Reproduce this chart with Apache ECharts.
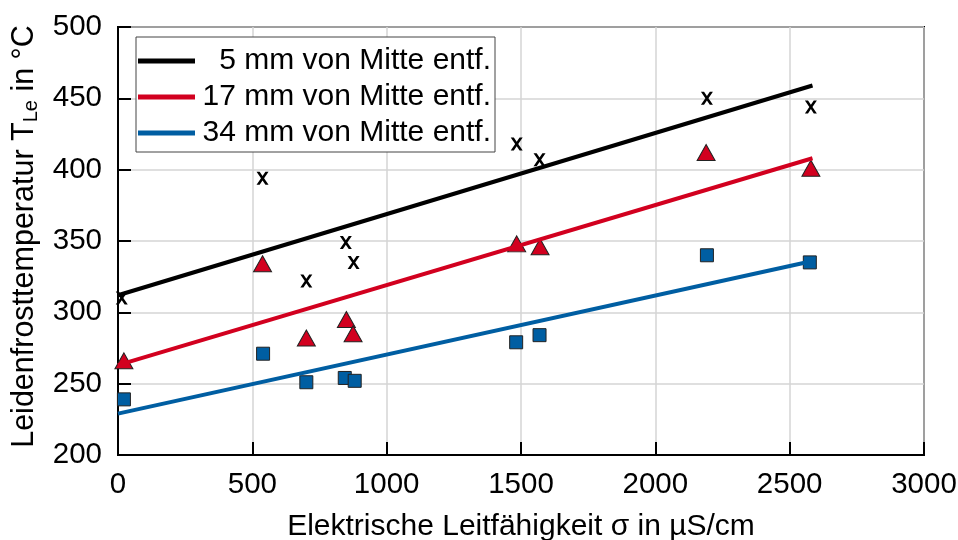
<!DOCTYPE html>
<html>
<head>
<meta charset="utf-8">
<script src="https://cdn.jsdelivr.net/npm/echarts@6/dist/echarts.min.js"></script>
<style>
html,body{margin:0;padding:0;background:#fff;}
#c{width:958px;height:540px;}
</style>
</head>
<body>
<div id="c"></div>
<script>
// Data
var seriesNames = ['5 mm von Mitte entf.', '17 mm von Mitte entf.', '34 mm von Mitte entf.'];
var xTicks = [0, 500, 1000, 1500, 2000, 2500, 3000];
var yTicks = [200, 250, 300, 350, 400, 450, 500];

var x5 = [14, 538, 701, 848, 877, 1484, 1569, 2192, 2579];
var y5 = [310, 394, 322, 349, 335, 418, 407, 450, 444];
var x17 = [22, 538, 701, 850, 875, 1484, 1571, 2189, 2579];
var y17 = [266, 334, 282, 295, 285, 348, 346, 412, 401];
var x34 = [22, 540, 701, 844, 881, 1482, 1569, 2192, 2575];
var y34 = [239, 271, 251, 254, 252, 279, 284, 340, 335];

// Fit lines (start / end values)
var fitX = [0, 2585];
var fit5 = [312, 459];
var fit17 = [263, 408];
var fit34 = [229, 336];

var colors = ['#000000', '#d2001f', '#005ea2'];

function pairs(xs, ys) { return xs.map(function (x, i) { return [x, ys[i]]; }); }

var crossPath = 'path://M0,0 L2.6,0 L5,3.3 L7.4,0 L10,0 L6.3,5 L10,10 L7.4,10 L5,6.7 L2.6,10 L0,10 L3.7,5 Z';
var font = 'Liberation Sans, Arial, sans-serif';

var chart = echarts.init(document.getElementById('c'), null, {renderer: 'canvas'});
chart.setOption({
  animation: false,
  backgroundColor: '#ffffff',
  textStyle: {fontFamily: font, color: '#000'},
  grid: {left: 118, right: 34, top: 27, bottom: 85, containLabel: false, outerBoundsMode: 'none',
    show: true, borderColor: '#000', borderWidth: 2, backgroundColor: 'transparent'},
  legend: {
    data: seriesNames,
    orient: 'vertical',
    left: 136, top: 37,
    backgroundColor: '#fff',
    borderColor: '#444', borderWidth: 1, borderRadius: 0,
    padding: [9, 4, 4, 2],
    itemGap: 6,
    itemWidth: 57, itemHeight: 5,
    itemTextGap: 8,
    icon: 'rect',
    selectedMode: false,
    formatter: function (n) { return '{t|' + n + '}'; },
    textStyle: {
      fontFamily: font, fontSize: 30, color: '#000',
      rich: {t: {fontFamily: font, fontSize: 30, lineHeight: 31, width: 291, align: 'right', color: '#000'}}
    }
  },
  xAxis: {
    type: 'value', min: xTicks[0], max: xTicks[xTicks.length - 1], interval: 500,
    name: 'Elektrische Leitfähigkeit σ in µS/cm',
    nameLocation: 'middle', nameGap: 57,
    nameTextStyle: {fontFamily: font, fontSize: 30, color: '#000'},
    axisLine: {lineStyle: {color: '#000', width: 2}},
    axisTick: {inside: true, length: 13, lineStyle: {color: '#000', width: 2}},
    axisLabel: {fontFamily: font, fontSize: 29.5, color: '#000', margin: 15,
      formatter: function (v) { return String(v); }},
    splitLine: {show: true, lineStyle: {color: '#d4d4d4', width: 1.5}}
  },
  yAxis: {
    type: 'value', min: yTicks[0], max: yTicks[yTicks.length - 1], interval: 50,
    name: 'Leidenfrosttemperatur T{sub|Le} in °C',
    nameLocation: 'middle', nameGap: 72, nameRotate: 90,
    nameTextStyle: {fontFamily: font, fontSize: 30.5, color: '#000', padding: [0, 0, 0, 9],
      rich: {sub: {fontFamily: font, fontSize: 20, color: '#000', verticalAlign: 'bottom', padding: [15, 0, 0, 0]}}},
    axisLine: {lineStyle: {color: '#000', width: 2}},
    axisTick: {inside: true, length: 13, lineStyle: {color: '#000', width: 2}},
    axisLabel: {fontFamily: font, fontSize: 29.5, color: '#000', margin: 16,
      formatter: function (v) { return String(v); }},
    splitLine: {show: true, lineStyle: {color: '#d4d4d4', width: 1.5}}
  },
  series: [
    {name: 'pts5', type: 'scatter', data: pairs(x5, y5), symbol: crossPath, symbolSize: [12, 13],
      itemStyle: {color: '#000', opacity: 1}, z: 3},
    {name: 'pts17', type: 'scatter', data: pairs(x17, y17), symbol: 'triangle', symbolSize: [18, 16],
      itemStyle: {color: colors[1], borderColor: '#222', borderWidth: 1, opacity: 1}, z: 3},
    {name: 'pts34', type: 'scatter', data: pairs(x34, y34), symbol: 'rect', symbolSize: [13, 13],
      itemStyle: {color: colors[2], borderColor: '#222', borderWidth: 1, opacity: 1}, z: 3},
    {name: seriesNames[0], type: 'line', data: pairs(fitX, fit5), showSymbol: false, symbol: 'none',
      lineStyle: {color: colors[0], width: 4}, itemStyle: {color: colors[0]}, z: 4},
    {name: seriesNames[1], type: 'line', data: pairs(fitX, fit17), showSymbol: false, symbol: 'none',
      lineStyle: {color: colors[1], width: 4}, itemStyle: {color: colors[1]}, z: 4},
    {name: seriesNames[2], type: 'line', data: pairs(fitX, fit34), showSymbol: false, symbol: 'none',
      lineStyle: {color: colors[2], width: 4}, itemStyle: {color: colors[2]}, z: 4}
  ]
});
</script>
</body>
</html>
